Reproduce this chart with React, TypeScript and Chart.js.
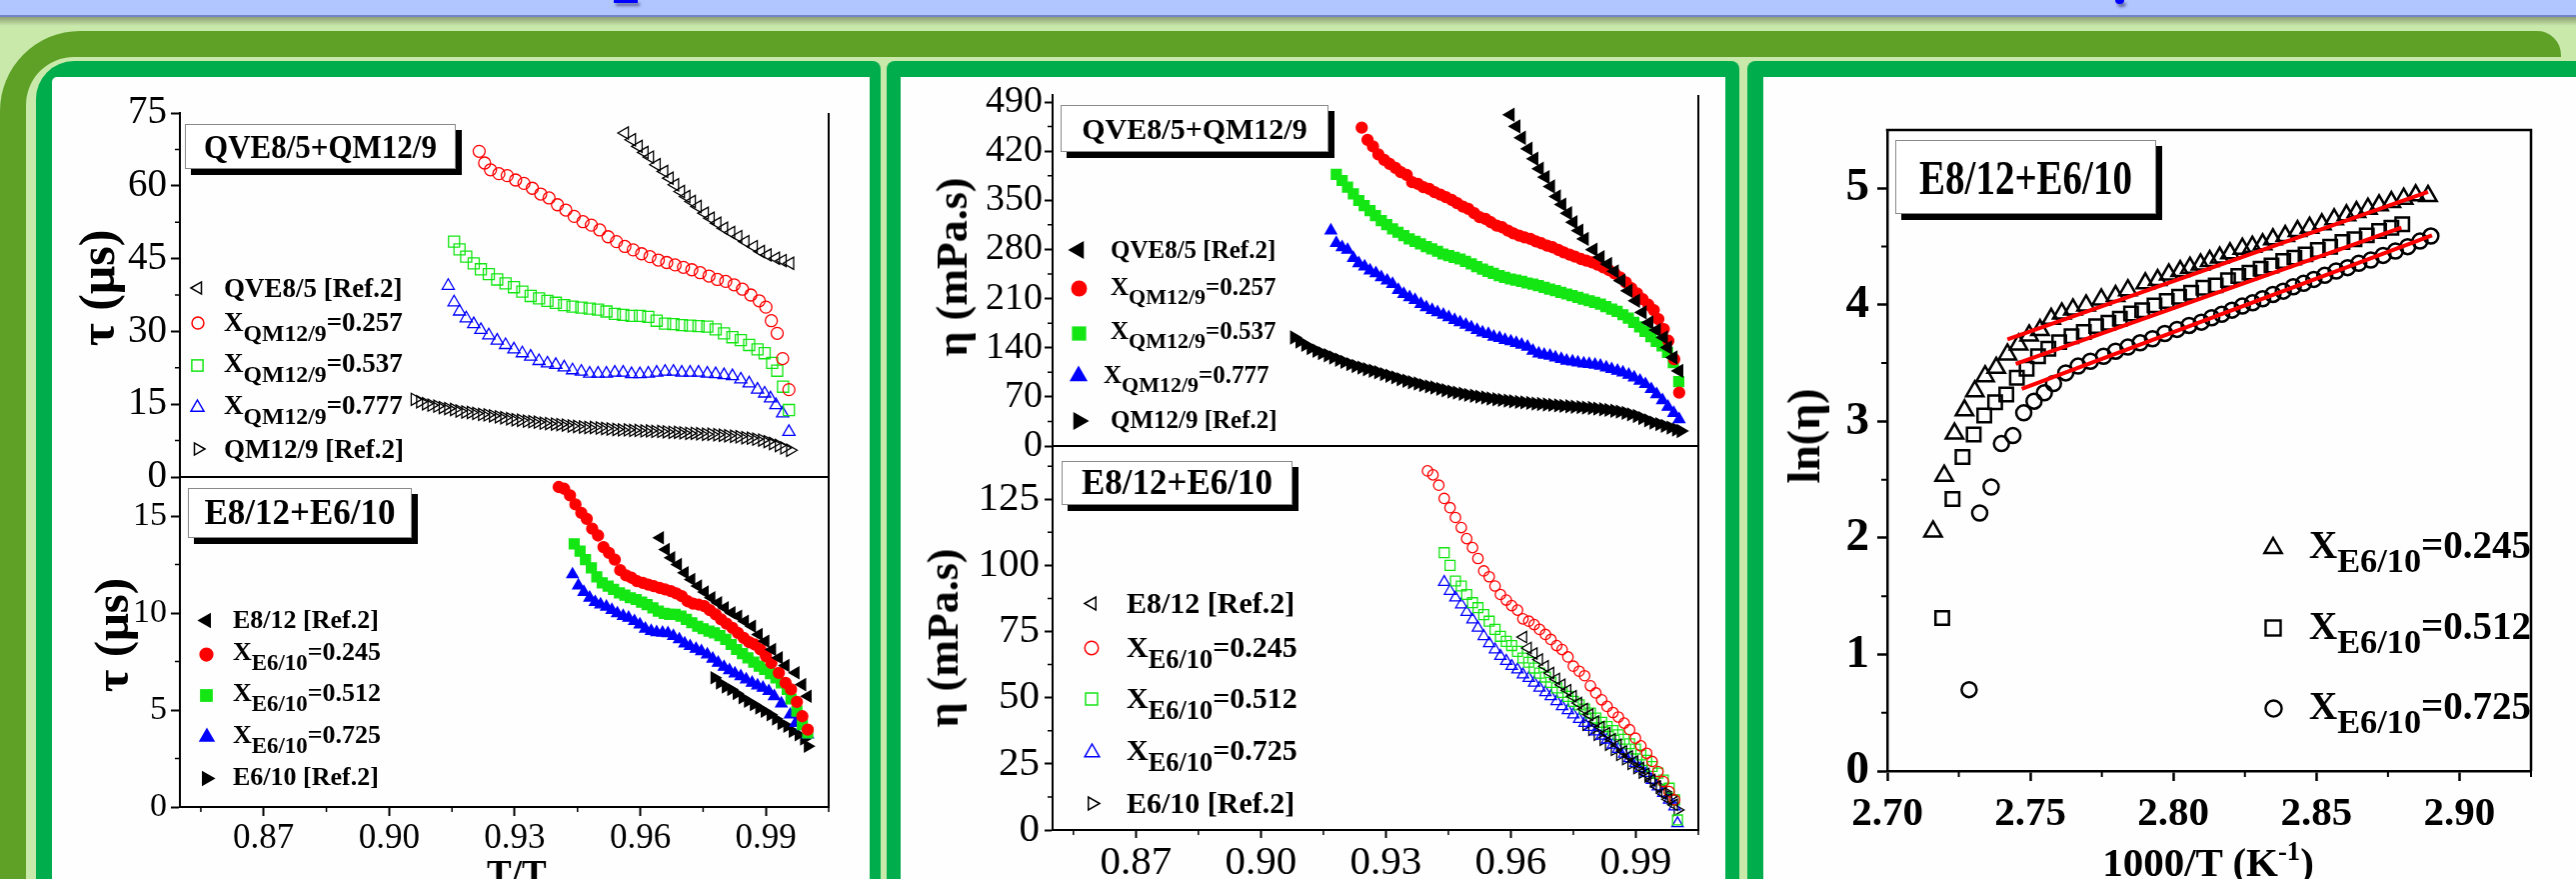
import React, { useEffect, useRef } from 'react';
import { Chart, registerables } from 'chart.js';
Chart.register(...registerables);

type Pt = [number, number];
const CFONT = "'Liberation Serif', 'Times New Roman', serif";

// ---------- Left panel, top: tau vs T/Tc (QVE8/5+QM12/9) ----------
const LT_QVE: Pt[] = [[0.9563,70.87],[0.9580,69.5],[0.9596,68.12],[0.9610,66.88],[0.9623,65.92],[0.9639,64.34],[0.9657,62.96],[0.9670,61.58],[0.9683,60.21],[0.9697,58.83],[0.9710,57.8],[0.9723,56.77],[0.9737,55.74],[0.9754,54.36],[0.9768,53.33],[0.9784,52.3],[0.9800,51.26],[0.9817,50.37],[0.9834,49.54],[0.9851,48.51],[0.9871,47.48],[0.9888,46.45],[0.9904,45.76],[0.9924,45.07],[0.9940,44.59],[0.9958,44.04]];
const LT_X257: Pt[] = [[0.9215,67.1],[0.9228,64.7],[0.9242,63.3],[0.9262,62.5],[0.9282,62.1],[0.9302,61.2],[0.9322,60.5],[0.9342,59.5],[0.9362,58.3],[0.9382,57.5],[0.9402,56.1],[0.9422,55.0],[0.9442,53.7],[0.9463,52.6],[0.9483,51.9],[0.9503,50.9],[0.9523,49.5],[0.9543,48.5],[0.9563,47.5],[0.9583,46.8],[0.9603,46.0],[0.9623,45.4],[0.9643,44.7],[0.9663,44.2],[0.9683,43.7],[0.9703,43.2],[0.9723,42.7],[0.9743,42.1],[0.9764,41.4],[0.9784,40.7],[0.9804,40.3],[0.9824,39.6],[0.9844,38.7],[0.9864,37.5],[0.9884,36.3],[0.9900,35.0],[0.9913,32.2],[0.9927,29.6],[0.9940,24.4],[0.9955,18.0]];
const LT_X537: Pt[] = [[0.9155,48.5],[0.9168,46.9],[0.9184,45.4],[0.9202,44.0],[0.9219,42.8],[0.9238,41.8],[0.9258,40.7],[0.9278,39.9],[0.9298,39.1],[0.9318,38.2],[0.9338,37.3],[0.9358,36.8],[0.9378,36.3],[0.9398,35.9],[0.9418,35.4],[0.9438,35.1],[0.9459,34.9],[0.9479,34.7],[0.9499,34.5],[0.9519,34.1],[0.9539,33.6],[0.9559,33.4],[0.9579,33.2],[0.9599,33.2],[0.9619,33.0],[0.9639,32.2],[0.9659,31.6],[0.9679,31.5],[0.9699,31.3],[0.9719,31.2],[0.9739,31.1],[0.9760,31.0],[0.9780,30.4],[0.9800,29.6],[0.9820,28.8],[0.9840,28.2],[0.9860,27.2],[0.9880,26.3],[0.9897,25.5],[0.9915,23.5],[0.9927,21.9],[0.9941,18.6],[0.9955,13.8]];
const LT_X777: Pt[] = [[0.9141,39.4],[0.9155,36.0],[0.9168,34.1],[0.9184,32.7],[0.9202,31.5],[0.9219,30.3],[0.9238,29.2],[0.9258,28.1],[0.9278,27.2],[0.9298,26.3],[0.9318,25.5],[0.9338,24.8],[0.9358,23.9],[0.9378,23.4],[0.9398,23.1],[0.9418,22.6],[0.9438,22.0],[0.9459,21.7],[0.9479,21.3],[0.9499,21.3],[0.9519,21.3],[0.9539,21.5],[0.9559,21.5],[0.9579,21.2],[0.9599,21.2],[0.9619,21.3],[0.9639,21.5],[0.9659,21.7],[0.9679,21.7],[0.9699,21.5],[0.9719,21.5],[0.9739,21.5],[0.9760,21.3],[0.9780,21.2],[0.9800,21.0],[0.9820,20.8],[0.9840,20.1],[0.9860,19.3],[0.9880,18.0],[0.9897,17.2],[0.9911,16.2],[0.9924,14.8],[0.9940,13.1],[0.9955,9.3]];
const LT_QM: Pt[] = [[0.9061,16.0],[0.9074,15.5],[0.9088,15.1],[0.9101,14.8],[0.9115,14.6],[0.9128,14.3],[0.9141,14.1],[0.9155,13.9],[0.9168,13.6],[0.9182,13.4],[0.9195,13.3],[0.9208,13.1],[0.9222,12.9],[0.9235,12.8],[0.9248,12.6],[0.9262,12.4],[0.9275,12.2],[0.9289,12.0],[0.9302,11.8],[0.9315,11.7],[0.9329,11.5],[0.9342,11.4],[0.9355,11.3],[0.9369,11.1],[0.9382,11.0],[0.9396,10.9],[0.9409,10.8],[0.9422,10.7],[0.9436,10.5],[0.9449,10.4],[0.9463,10.3],[0.9476,10.2],[0.9489,10.2],[0.9503,10.1],[0.9516,10.0],[0.9529,9.9],[0.9543,9.8],[0.9556,9.7],[0.9570,9.7],[0.9583,9.6],[0.9596,9.6],[0.9610,9.5],[0.9623,9.5],[0.9636,9.4],[0.9650,9.4],[0.9663,9.3],[0.9677,9.2],[0.9690,9.2],[0.9703,9.1],[0.9717,9.0],[0.9730,9.0],[0.9743,8.9],[0.9757,8.8],[0.9770,8.8],[0.9784,8.7],[0.9797,8.6],[0.9810,8.5],[0.9824,8.4],[0.9837,8.3],[0.9851,8.1],[0.9864,8.0],[0.9877,7.8],[0.9891,7.6],[0.9904,7.3],[0.9917,6.9],[0.9931,6.5],[0.9944,6.0],[0.9958,5.5]];

// ---------- Left panel, bottom: tau vs T/Tc (E8/12+E6/10) ----------
const LB_E812: Pt[] = [[0.9647,13.88],[0.9661,13.28],[0.9674,12.85],[0.9690,12.5],[0.9706,12.08],[0.9722,11.73],[0.9738,11.39],[0.9754,11.08],[0.9770,10.79],[0.9786,10.53],[0.9802,10.27],[0.9818,10.01],[0.9834,9.84],[0.9850,9.58],[0.9867,9.32],[0.9883,8.89],[0.9899,8.55],[0.9915,8.12],[0.9931,7.69],[0.9947,7.29],[0.9971,6.92],[0.9987,6.31],[1.0000,5.71]];
const LB_X245: Pt[] = [[0.9405,16.5],[0.9418,16.41],[0.9432,16.07],[0.9445,15.6],[0.9459,15.17],[0.9472,14.86],[0.9485,14.35],[0.9499,14.0],[0.9512,13.4],[0.9525,13.1],[0.9539,12.76],[0.9552,12.21],[0.9566,11.94],[0.9579,11.82],[0.9592,11.65],[0.9606,11.56],[0.9619,11.47],[0.9632,11.39],[0.9646,11.3],[0.9659,11.22],[0.9673,11.13],[0.9686,11.01],[0.9699,10.87],[0.9713,10.61],[0.9726,10.49],[0.9739,10.44],[0.9753,10.36],[0.9766,10.15],[0.9780,9.93],[0.9793,9.67],[0.9806,9.46],[0.9820,9.24],[0.9833,8.98],[0.9847,8.72],[0.9860,8.5],[0.9873,8.38],[0.9887,8.12],[0.9900,7.78],[0.9913,7.43],[0.9931,6.92],[0.9947,6.4],[0.9960,6.06],[0.9974,5.42],[0.9987,4.68],[1.0000,3.99]];
const LB_X512: Pt[] = [[0.9442,13.57],[0.9456,13.19],[0.9469,12.76],[0.9483,12.33],[0.9496,11.87],[0.9509,11.56],[0.9523,11.39],[0.9536,11.22],[0.9550,11.04],[0.9563,10.92],[0.9576,10.79],[0.9590,10.7],[0.9603,10.56],[0.9616,10.44],[0.9630,10.27],[0.9643,10.1],[0.9657,9.98],[0.9670,9.93],[0.9683,9.93],[0.9697,9.84],[0.9710,9.67],[0.9723,9.5],[0.9737,9.32],[0.9750,9.19],[0.9764,9.07],[0.9777,8.98],[0.9790,8.84],[0.9804,8.64],[0.9817,8.38],[0.9830,8.12],[0.9844,7.91],[0.9857,7.69],[0.9871,7.47],[0.9884,7.26],[0.9897,7.09],[0.9911,6.88],[0.9924,6.66],[0.9937,6.4],[0.9951,6.06],[0.9960,5.57],[0.9974,4.94],[0.9987,4.25],[1.0000,3.82]];
const LB_X725: Pt[] = [[0.9438,11.99],[0.9452,11.42],[0.9465,11.08],[0.9479,10.79],[0.9492,10.56],[0.9505,10.44],[0.9519,10.32],[0.9532,10.15],[0.9545,9.98],[0.9559,9.84],[0.9572,9.75],[0.9586,9.58],[0.9599,9.41],[0.9612,9.19],[0.9626,9.07],[0.9639,9.01],[0.9653,8.98],[0.9666,8.95],[0.9679,8.81],[0.9693,8.64],[0.9706,8.43],[0.9719,8.29],[0.9733,8.15],[0.9746,8.03],[0.9760,7.86],[0.9773,7.64],[0.9786,7.43],[0.9800,7.22],[0.9813,7.05],[0.9826,6.88],[0.9840,6.74],[0.9853,6.57],[0.9867,6.4],[0.9880,6.26],[0.9893,6.14],[0.9907,5.97],[0.9920,5.71],[0.9937,5.33],[0.9958,4.76],[0.9971,4.33],[0.9987,4.16],[1.0000,3.73]];
const LB_E610: Pt[] = [[0.9777,6.66],[0.9790,6.4],[0.9804,6.19],[0.9817,6.06],[0.9830,5.85],[0.9844,5.63],[0.9857,5.45],[0.9871,5.28],[0.9884,5.11],[0.9897,4.94],[0.9911,4.76],[0.9924,4.54],[0.9937,4.3],[0.9951,4.16],[0.9964,3.9],[0.9978,3.73],[0.9991,3.51],[1.0000,3.13]];

// ---------- Middle panel, top: eta vs T/Tc (QVE8/5+QM12/9) ----------
const MT_QVE: Pt[] = [[0.9599,471.9],[0.9613,455.3],[0.9626,439.1],[0.9642,423.4],[0.9656,409.1],[0.9669,394.9],[0.9683,383.0],[0.9696,369.6],[0.9710,355.4],[0.9723,343.9],[0.9737,331.6],[0.9750,318.7],[0.9764,306.8],[0.9777,295.0],[0.9798,279.7],[0.9815,268.8],[0.9833,259.3],[0.9849,248.8],[0.9865,235.5],[0.9882,221.2],[0.9900,206.9],[0.9916,190.3],[0.9932,176.0],[0.9950,165.1],[0.9967,154.6],[0.9977,140.3],[0.9990,126.1],[1.0004,107.0]];
const MT_X257: Pt[] = [[0.9242,453.4],[0.9256,436.2],[0.9269,426.7],[0.9282,415.3],[0.9296,407.7],[0.9309,402.0],[0.9323,396.3],[0.9336,390.1],[0.9350,386.3],[0.9363,375.8],[0.9377,373.4],[0.9390,368.7],[0.9404,366.3],[0.9417,361.6],[0.9431,358.2],[0.9444,354.4],[0.9458,350.6],[0.9471,345.9],[0.9485,341.1],[0.9498,337.8],[0.9512,331.6],[0.9525,325.9],[0.9539,323.5],[0.9552,318.7],[0.9566,314.0],[0.9579,311.6],[0.9593,306.8],[0.9606,303.0],[0.9620,299.7],[0.9633,297.3],[0.9647,295.0],[0.9660,291.6],[0.9673,288.8],[0.9687,285.4],[0.9700,283.1],[0.9714,279.3],[0.9727,275.9],[0.9741,272.6],[0.9754,269.8],[0.9768,266.4],[0.9781,264.0],[0.9795,261.6],[0.9808,258.3],[0.9822,254.5],[0.9835,250.7],[0.9849,245.9],[0.9862,240.2],[0.9876,233.1],[0.9889,225.0],[0.9903,217.4],[0.9916,209.3],[0.9930,201.2],[0.9943,193.6],[0.9954,180.8],[0.9967,166.5],[0.9978,149.9],[0.9992,123.7],[1.0004,76.1]];
const MT_X537: Pt[] = [[0.9181,386.8],[0.9195,378.2],[0.9208,368.7],[0.9222,359.2],[0.9235,349.7],[0.9248,342.5],[0.9262,335.4],[0.9275,328.3],[0.9289,321.1],[0.9302,315.4],[0.9316,309.2],[0.9329,304.5],[0.9343,299.7],[0.9356,295.0],[0.9370,291.6],[0.9383,287.8],[0.9397,284.0],[0.9410,280.7],[0.9424,277.4],[0.9437,273.5],[0.9451,271.2],[0.9464,268.8],[0.9478,266.4],[0.9491,263.1],[0.9505,259.3],[0.9518,255.5],[0.9532,252.1],[0.9545,248.8],[0.9558,246.0],[0.9572,242.6],[0.9585,240.2],[0.9599,237.9],[0.9612,236.4],[0.9626,234.5],[0.9639,232.2],[0.9653,230.7],[0.9666,228.4],[0.9680,226.0],[0.9693,223.6],[0.9707,221.2],[0.9720,218.8],[0.9734,216.5],[0.9747,214.1],[0.9761,211.7],[0.9774,209.3],[0.9788,206.9],[0.9801,204.6],[0.9815,202.2],[0.9828,198.4],[0.9842,195.0],[0.9855,191.7],[0.9869,187.0],[0.9882,182.2],[0.9895,176.0],[0.9909,169.8],[0.9922,163.2],[0.9936,155.6],[0.9949,148.9],[0.9963,142.7],[0.9976,133.2],[0.9990,118.9],[1.0003,91.8]];
const MT_X777: Pt[] = [[0.9168,306.8],[0.9181,289.2],[0.9195,283.1],[0.9208,279.3],[0.9222,267.8],[0.9235,260.2],[0.9249,255.5],[0.9262,249.8],[0.9276,246.0],[0.9289,240.2],[0.9303,235.5],[0.9316,230.7],[0.9330,222.2],[0.9343,216.5],[0.9357,211.7],[0.9370,207.9],[0.9384,202.2],[0.9397,197.4],[0.9411,193.6],[0.9424,190.3],[0.9438,187.0],[0.9451,183.2],[0.9465,179.4],[0.9478,176.0],[0.9492,172.7],[0.9505,168.9],[0.9519,165.1],[0.9532,161.7],[0.9546,159.4],[0.9559,155.6],[0.9573,153.7],[0.9586,150.8],[0.9600,148.9],[0.9613,146.5],[0.9626,144.1],[0.9640,141.3],[0.9653,135.6],[0.9667,131.8],[0.9680,129.9],[0.9694,128.4],[0.9707,126.1],[0.9721,123.7],[0.9734,121.3],[0.9748,120.4],[0.9761,118.9],[0.9775,117.5],[0.9788,116.6],[0.9802,115.6],[0.9815,114.2],[0.9829,111.8],[0.9842,109.4],[0.9856,107.0],[0.9869,104.7],[0.9883,101.3],[0.9896,97.5],[0.9910,92.8],[0.9923,88.0],[0.9937,80.9],[0.9950,73.7],[0.9964,65.2],[0.9977,55.7],[0.9991,47.0],[1.0004,38.1]];
const MT_QM: Pt[] = [[0.9080,154.6],[0.9093,148.9],[0.9107,144.1],[0.9120,139.4],[0.9134,135.6],[0.9147,132.3],[0.9161,129.2],[0.9174,126.1],[0.9188,122.9],[0.9201,119.8],[0.9215,116.6],[0.9228,114.0],[0.9242,111.6],[0.9255,109.4],[0.9269,107.2],[0.9282,105.0],[0.9296,102.3],[0.9309,100.1],[0.9323,97.7],[0.9336,95.1],[0.9350,92.9],[0.9363,90.8],[0.9377,89.0],[0.9390,86.8],[0.9404,84.9],[0.9417,83.3],[0.9431,81.4],[0.9444,79.4],[0.9458,77.5],[0.9471,76.0],[0.9485,74.4],[0.9498,72.8],[0.9512,71.5],[0.9525,70.3],[0.9539,69.0],[0.9552,67.7],[0.9566,66.6],[0.9579,65.7],[0.9593,64.7],[0.9606,63.7],[0.9620,62.8],[0.9633,62.2],[0.9647,61.4],[0.9660,60.4],[0.9673,59.8],[0.9687,59.2],[0.9700,58.5],[0.9714,57.9],[0.9727,57.2],[0.9741,56.6],[0.9754,56.0],[0.9768,55.4],[0.9781,54.7],[0.9795,54.1],[0.9808,53.3],[0.9822,52.3],[0.9835,51.4],[0.9849,50.3],[0.9862,49.0],[0.9876,47.2],[0.9889,45.0],[0.9903,42.8],[0.9916,39.7],[0.9930,36.5],[0.9943,33.3],[0.9957,31.1],[0.9970,28.7],[0.9984,26.2],[0.9997,23.5],[1.0008,21.4]];

// ---------- Middle panel, bottom: eta vs T/Tc (E8/12+E6/10) ----------
const MB_E812: Pt[] = [[0.9630,72.9],[0.9641,68.8],[0.9655,66.7],[0.9668,64.4],[0.9682,61.9],[0.9695,59.3],[0.9709,57.1],[0.9722,54.9],[0.9736,52.8],[0.9749,50.5],[0.9762,48.0],[0.9776,45.7],[0.9789,43.6],[0.9803,41.0],[0.9816,38.9],[0.9830,36.6],[0.9843,34.3],[0.9857,32.2],[0.9870,29.7],[0.9884,27.8],[0.9897,25.9],[0.9911,23.4],[0.9924,21.2],[0.9938,18.9],[0.9951,16.4],[0.9965,13.9],[0.9978,11.6],[0.9992,9.5]];
const MB_X245: Pt[] = [[0.9400,135.7],[0.9413,134.2],[0.9427,130.3],[0.9440,125.3],[0.9454,121.8],[0.9467,118.1],[0.9481,114.3],[0.9494,110.1],[0.9508,106.7],[0.9521,102.6],[0.9535,97.9],[0.9548,95.7],[0.9562,92.2],[0.9575,89.0],[0.9589,86.9],[0.9602,84.8],[0.9616,83.1],[0.9629,79.8],[0.9643,78.9],[0.9656,77.6],[0.9669,75.8],[0.9683,73.9],[0.9696,72.0],[0.9710,69.7],[0.9723,68.2],[0.9737,65.4],[0.9750,61.9],[0.9764,60.0],[0.9777,58.3],[0.9791,54.5],[0.9804,51.8],[0.9818,49.2],[0.9831,46.7],[0.9845,44.4],[0.9858,42.7],[0.9872,40.4],[0.9885,37.9],[0.9899,34.7],[0.9912,31.8],[0.9926,29.0],[0.9939,25.9],[0.9953,22.1],[0.9966,18.3],[0.9980,14.5],[0.9993,11.4]];
const MB_X512: Pt[] = [[0.9440,104.8],[0.9454,100.0],[0.9467,94.1],[0.9481,92.2],[0.9494,89.0],[0.9508,85.9],[0.9521,84.0],[0.9535,81.4],[0.9548,78.9],[0.9562,75.8],[0.9575,73.2],[0.9589,71.3],[0.9602,69.7],[0.9616,67.5],[0.9629,65.0],[0.9643,63.4],[0.9656,61.2],[0.9669,59.3],[0.9683,57.8],[0.9696,55.8],[0.9710,53.7],[0.9723,52.0],[0.9737,50.5],[0.9750,48.6],[0.9764,47.3],[0.9777,45.7],[0.9791,44.2],[0.9804,42.3],[0.9818,40.7],[0.9831,39.1],[0.9845,37.6],[0.9858,36.0],[0.9872,34.3],[0.9885,32.6],[0.9899,30.6],[0.9912,28.4],[0.9926,26.3],[0.9939,24.0],[0.9953,21.5],[0.9966,18.9],[0.9980,15.8],[0.9993,11.4],[1.0000,3.8]];
const MB_X725: Pt[] = [[0.9440,93.7],[0.9454,90.3],[0.9467,87.8],[0.9481,85.2],[0.9494,82.3],[0.9508,79.5],[0.9521,76.4],[0.9535,73.2],[0.9548,70.5],[0.9562,68.2],[0.9575,65.7],[0.9589,63.8],[0.9602,61.9],[0.9616,60.6],[0.9629,58.7],[0.9643,57.4],[0.9656,55.6],[0.9669,53.7],[0.9683,52.0],[0.9696,50.5],[0.9710,48.6],[0.9723,46.7],[0.9737,45.2],[0.9750,43.6],[0.9764,41.9],[0.9777,40.4],[0.9791,38.9],[0.9804,37.2],[0.9818,35.6],[0.9831,34.1],[0.9845,32.2],[0.9858,30.6],[0.9872,28.8],[0.9885,27.1],[0.9899,25.3],[0.9912,23.4],[0.9926,21.5],[0.9939,18.9],[0.9953,16.4],[0.9966,13.9],[0.9980,11.4],[0.9993,8.8],[1.0000,2.5]];
const MB_E610: Pt[] = [[0.9781,39.8],[0.9795,37.9],[0.9808,36.0],[0.9822,34.1],[0.9835,32.2],[0.9849,30.3],[0.9862,28.4],[0.9876,26.8],[0.9889,25.0],[0.9903,23.4],[0.9916,21.7],[0.9930,20.2],[0.9943,18.3],[0.9957,16.4],[0.9970,14.5],[0.9984,12.6],[1.0000,7.6]];

// ---------- Right panel: ln(eta) vs 1000/T ----------
const R_T245: Pt[] = [[2.716,2.056],[2.7199,2.534],[2.7235,2.895],[2.727,3.095],[2.7306,3.259],[2.7342,3.388],[2.7381,3.46],[2.742,3.574],[2.7459,3.66],[2.7496,3.737],[2.7534,3.783],[2.7573,3.88],[2.761,3.926],[2.7649,3.96],[2.7695,3.995],[2.7748,4.046],[2.7798,4.075],[2.7841,4.126],[2.7902,4.184],[2.7945,4.212],[2.7984,4.261],[2.8024,4.29],[2.8058,4.319],[2.8095,4.347],[2.8127,4.376],[2.8162,4.405],[2.8198,4.442],[2.8241,4.482],[2.8276,4.499],[2.8312,4.519],[2.8348,4.562],[2.8391,4.59],[2.8434,4.633],[2.8476,4.662],[2.8519,4.691],[2.8562,4.734],[2.8605,4.768],[2.864,4.796],[2.868,4.825],[2.8719,4.854],[2.8762,4.882],[2.8805,4.911],[2.8847,4.94],[2.889,4.934]];
const R_S512: Pt[] = [[2.7192,1.312],[2.7228,2.334],[2.7263,2.695],[2.7302,2.887],[2.7339,3.05],[2.7377,3.164],[2.7416,3.23],[2.7453,3.374],[2.7487,3.451],[2.7527,3.559],[2.7563,3.623],[2.7601,3.68],[2.7644,3.731],[2.7687,3.766],[2.773,3.817],[2.7773,3.846],[2.7813,3.88],[2.7852,3.926],[2.7891,3.954],[2.7934,3.995],[2.7977,4.032],[2.802,4.069],[2.8062,4.104],[2.8105,4.147],[2.8148,4.167],[2.8191,4.212],[2.8227,4.247],[2.8266,4.276],[2.8305,4.31],[2.8343,4.338],[2.8384,4.376],[2.8423,4.405],[2.8462,4.433],[2.8505,4.47],[2.8548,4.499],[2.8591,4.539],[2.8633,4.562],[2.8676,4.596],[2.8719,4.633],[2.8762,4.662],[2.88,4.691]];
const R_C725: Pt[] = [[2.7286,0.698],[2.7323,2.214],[2.7363,2.437],[2.7399,2.809],[2.7439,2.878],[2.7477,3.073],[2.7513,3.173],[2.7549,3.245],[2.7581,3.325],[2.7624,3.416],[2.7667,3.474],[2.771,3.516],[2.7756,3.559],[2.7798,3.602],[2.7841,3.637],[2.7884,3.674],[2.7927,3.709],[2.797,3.754],[2.8013,3.789],[2.8055,3.823],[2.8098,3.851],[2.8134,3.889],[2.8169,3.918],[2.8205,3.954],[2.8241,3.989],[2.8277,4.017],[2.8312,4.052],[2.8348,4.089],[2.8384,4.117],[2.8419,4.155],[2.8455,4.184],[2.8491,4.218],[2.8529,4.253],[2.8569,4.29],[2.8609,4.319],[2.8648,4.356],[2.869,4.384],[2.8733,4.424],[2.8776,4.461],[2.8819,4.499],[2.8862,4.547],[2.89,4.59]];
const R_FIT245: Pt[] = [[2.742,3.703],[2.889,4.969]];
const R_FIT512: Pt[] = [[2.7449,3.494],[2.8797,4.662]];
const R_FIT725: Pt[] = [[2.747,3.279],[2.8904,4.596]];

// ---------- tick values ----------
const TT_X_MAJOR = [0.87, 0.90, 0.93, 0.96, 0.99];
const TT_X_MINOR = [0.855, 0.885, 0.915, 0.945, 0.975, 1.005];
const LT_Y_MAJOR = [0, 15, 30, 45, 60, 75];
const LT_Y_MINOR = [7.5, 22.5, 37.5, 52.5, 67.5];
const LB_Y_MAJOR = [0, 5, 10, 15];
const LB_Y_MINOR = [2.5, 7.5, 12.5];
const MT_Y_MAJOR = [0, 70, 140, 210, 280, 350, 420, 490];
const MT_Y_MINOR = [35, 105, 175, 245, 315, 385, 455];
const MB_Y_MAJOR = [0, 25, 50, 75, 100, 125];
const MB_Y_MINOR = [12.5, 37.5, 62.5, 87.5, 112.5, 137.5];
const R_X_MAJOR = [2.70, 2.75, 2.80, 2.85, 2.90];
const R_X_MINOR = [2.725, 2.775, 2.825, 2.875, 2.925];
const R_Y_MAJOR = [0, 1, 2, 3, 4, 5];
const R_Y_MINOR = [0.5, 1.5, 2.5, 3.5, 4.5];

const RED = '#ff0000';
const GREEN = '#14e614';
const BLUE = '#0000ff';
const BLACK = '#000000';

type Spec = { data: Pt[]; shape: string; rot?: number; color: string; filled: boolean; r: number; bw?: number };
type Cfg = {
  canvas: { x: number; y: number; w: number; h: number };
  area: { x1: number; y1: number; x2: number; y2: number };
  xMin: number; xMax: number; xMajor: number[]; xMinor: number[]; showX: boolean; xSize: number; xWeight: string; xDec: number; xPad: number;
  yMin: number; yMax: number; yMajor: number[]; yMinor: number[]; ySize: number; yWeight: string; yPad: number;
  series: Spec[]; fits?: Pt[][]; topFrame?: boolean; lw: number; tickLen: number; minorLen: number;
};

function buildConfig(cfg: Cfg): any {
  const yW = cfg.area.x1 - cfg.canvas.x;
  const xH = cfg.canvas.y + cfg.canvas.h - cfg.area.y2;
  const padTop = cfg.area.y1 - cfg.canvas.y;
  const padRight = cfg.canvas.x + cfg.canvas.w - cfg.area.x2;
  const datasets: any[] = [];
  (cfg.fits || []).forEach((f) => {
    datasets.push({ data: f.map(([x, y]) => ({ x, y })), showLine: true, borderColor: RED, borderWidth: 4, pointRadius: 0, pointHoverRadius: 0, fill: false, clip: false });
  });
  cfg.series.forEach((s) => {
    datasets.push({
      data: s.data.map(([x, y]) => ({ x, y })), showLine: false,
      pointStyle: s.shape, pointRotation: s.rot || 0, pointRadius: s.r, pointHoverRadius: s.r,
      pointBackgroundColor: s.filled ? s.color : 'rgba(0,0,0,0)', pointBorderColor: s.color,
      pointBorderWidth: s.bw ?? 1.3, clip: false,
    });
  });
  const zeroPad = (a: any) => { a.paddingLeft = 0; a.paddingRight = 0; a.paddingTop = 0; a.paddingBottom = 0; };
  const framePlugin = {
    id: 'frameMinor',
    afterDraw(chart: any) {
      const ctx = chart.ctx; const a = chart.chartArea;
      const xs = chart.scales.x; const ys = chart.scales.y;
      ctx.save();
      ctx.strokeStyle = '#000';
      ctx.lineWidth = cfg.lw;
      ctx.beginPath();
      ctx.moveTo(a.right, a.top); ctx.lineTo(a.right, a.bottom);
      if (cfg.topFrame) { ctx.moveTo(a.left - cfg.lw / 2, a.top); ctx.lineTo(a.right + cfg.lw / 2, a.top); }
      ctx.stroke();
      ctx.lineWidth = Math.max(1.5, cfg.lw - 0.5);
      ctx.beginPath();
      cfg.yMinor.forEach((v) => { const p = ys.getPixelForValue(v); ctx.moveTo(a.left, p); ctx.lineTo(a.left - cfg.minorLen, p); });
      if (cfg.showX) cfg.xMinor.forEach((v) => { const p = xs.getPixelForValue(v); ctx.moveTo(p, a.bottom); ctx.lineTo(p, a.bottom + cfg.minorLen); });
      ctx.stroke();
      ctx.restore();
    },
  };
  return {
    type: 'scatter',
    data: { datasets },
    options: {
      animation: false, responsive: false, devicePixelRatio: 1, events: [],
      layout: { padding: { left: 0, top: padTop, right: padRight, bottom: 0 } },
      plugins: { legend: { display: false }, tooltip: { enabled: false } },
      scales: {
        x: {
          type: 'linear', position: 'bottom', min: cfg.xMin, max: cfg.xMax,
          afterBuildTicks: (a: any) => { a.ticks = cfg.xMajor.map((v) => ({ value: v })); },
          afterFit: (a: any) => { a.height = xH; zeroPad(a); },
          ticks: { display: cfg.showX, autoSkip: false, maxRotation: 0, minRotation: 0, color: '#000', padding: cfg.xPad,
            font: { family: CFONT, size: cfg.xSize, weight: cfg.xWeight }, callback: (v: any) => Number(v).toFixed(cfg.xDec) },
          grid: { display: true, drawOnChartArea: false, drawTicks: cfg.showX, tickLength: cfg.tickLen, tickWidth: cfg.lw, tickColor: '#000' },
          border: { display: true, color: '#000', width: cfg.lw },
        },
        y: {
          type: 'linear', position: 'left', min: cfg.yMin, max: cfg.yMax,
          afterBuildTicks: (a: any) => { a.ticks = cfg.yMajor.map((v) => ({ value: v })); },
          afterFit: (a: any) => { a.width = yW; zeroPad(a); },
          ticks: { autoSkip: false, color: '#000', padding: cfg.yPad,
            font: { family: CFONT, size: cfg.ySize, weight: cfg.yWeight }, callback: (v: any) => String(Number(v)) },
          grid: { display: true, drawOnChartArea: false, drawTicks: true, tickLength: cfg.tickLen, tickWidth: cfg.lw, tickColor: '#000' },
          border: { display: true, color: '#000', width: cfg.lw },
        },
      },
    },
    plugins: [framePlugin],
  };
}

const CHARTS: Cfg[] = [
  {
    canvas: { x: 52, y: 77, w: 818, h: 420 }, area: { x1: 180, y1: 113, x2: 829, y2: 477 },
    xMin: 0.85, xMax: 1.005, xMajor: TT_X_MAJOR, xMinor: TT_X_MINOR, showX: false, xSize: 34, xWeight: 'normal', xDec: 2, xPad: 2,
    yMin: 0, yMax: 75, yMajor: LT_Y_MAJOR, yMinor: LT_Y_MINOR, ySize: 39, yWeight: 'normal', yPad: 4,
    lw: 2, tickLen: 9, minorLen: 5,
    series: [
      { data: LT_QVE, shape: 'triangle', rot: -90, color: BLACK, filled: false, r: 7 },
      { data: LT_X257, shape: 'circle', color: RED, filled: false, r: 6 },
      { data: LT_X537, shape: 'rect', color: GREEN, filled: false, r: 7.8 },
      { data: LT_X777, shape: 'triangle', color: BLUE, filled: false, r: 7 },
      { data: LT_QM, shape: 'triangle', rot: 90, color: BLACK, filled: false, r: 7 },
    ],
  },
  {
    canvas: { x: 52, y: 469, w: 818, h: 410 }, area: { x1: 180, y1: 477, x2: 829, y2: 807 },
    xMin: 0.85, xMax: 1.005, xMajor: TT_X_MAJOR, xMinor: TT_X_MINOR, showX: true, xSize: 35, xWeight: 'normal', xDec: 2, xPad: 2,
    yMin: 0, yMax: 17, yMajor: LB_Y_MAJOR, yMinor: LB_Y_MINOR, ySize: 34, yWeight: 'normal', yPad: 4,
    lw: 2, tickLen: 9, minorLen: 5,
    series: [
      { data: LB_E812, shape: 'triangle', rot: -90, color: BLACK, filled: true, r: 6.5 },
      { data: LB_X245, shape: 'circle', color: RED, filled: true, r: 5.5 },
      { data: LB_X512, shape: 'rect', color: GREEN, filled: true, r: 7 },
      { data: LB_X725, shape: 'triangle', color: BLUE, filled: true, r: 6.5 },
      { data: LB_E610, shape: 'triangle', rot: 90, color: BLACK, filled: true, r: 6.5 },
    ],
  },
  {
    canvas: { x: 901, y: 77, w: 825, h: 389 }, area: { x1: 1053, y1: 95, x2: 1699, y2: 446 },
    xMin: 0.85, xMax: 1.005, xMajor: TT_X_MAJOR, xMinor: TT_X_MINOR, showX: false, xSize: 40, xWeight: 'normal', xDec: 2, xPad: 2,
    yMin: 0, yMax: 500, yMajor: MT_Y_MAJOR, yMinor: MT_Y_MINOR, ySize: 38, yWeight: 'normal', yPad: 2,
    lw: 2, tickLen: 8, minorLen: 5,
    series: [
      { data: MT_QVE, shape: 'triangle', rot: -90, color: BLACK, filled: true, r: 7 },
      { data: MT_X257, shape: 'circle', color: RED, filled: true, r: 5.5 },
      { data: MT_X537, shape: 'rect', color: GREEN, filled: true, r: 7 },
      { data: MT_X777, shape: 'triangle', color: BLUE, filled: true, r: 6.5 },
      { data: MT_QM, shape: 'triangle', rot: 90, color: BLACK, filled: true, r: 7 },
    ],
  },
  {
    canvas: { x: 901, y: 438, w: 825, h: 441 }, area: { x1: 1053, y1: 446, x2: 1699, y2: 830 },
    xMin: 0.85, xMax: 1.005, xMajor: TT_X_MAJOR, xMinor: TT_X_MINOR, showX: true, xSize: 41, xWeight: 'normal', xDec: 2, xPad: 1,
    yMin: 0, yMax: 145, yMajor: MB_Y_MAJOR, yMinor: MB_Y_MINOR, ySize: 41, yWeight: 'normal', yPad: 5,
    lw: 2, tickLen: 8, minorLen: 5,
    series: [
      { data: MB_E812, shape: 'triangle', rot: -90, color: BLACK, filled: false, r: 6.5 },
      { data: MB_X245, shape: 'circle', color: RED, filled: false, r: 5.2 },
      { data: MB_X512, shape: 'rect', color: GREEN, filled: false, r: 7 },
      { data: MB_X725, shape: 'triangle', color: BLUE, filled: false, r: 6.5 },
      { data: MB_E610, shape: 'triangle', rot: 90, color: BLACK, filled: false, r: 6.5 },
    ],
  },
  {
    canvas: { x: 1764, y: 77, w: 813, h: 802 }, area: { x1: 1888, y1: 130, x2: 2532, y2: 771 },
    xMin: 2.70, xMax: 2.925, xMajor: R_X_MAJOR, xMinor: R_X_MINOR, showX: true, xSize: 41, xWeight: 'bold', xDec: 2, xPad: 9,
    yMin: 0, yMax: 5.5, yMajor: R_Y_MAJOR, yMinor: R_Y_MINOR, ySize: 47, yWeight: 'bold', yPad: 8,
    lw: 2.5, tickLen: 10, minorLen: 6, topFrame: true,
    fits: [R_FIT245, R_FIT512, R_FIT725],
    series: [
      { data: R_T245, shape: 'triangle', color: BLACK, filled: false, r: 10, bw: 2.5 },
      { data: R_S512, shape: 'rect', color: BLACK, filled: false, r: 9.5, bw: 2.5 },
      { data: R_C725, shape: 'circle', color: BLACK, filled: false, r: 7.5, bw: 2.5 },
    ],
  },
];

function ChartCanvas({ cfg }: { cfg: Cfg }) {
  const ref = useRef<HTMLCanvasElement>(null);
  useEffect(() => {
    const chart = new Chart(ref.current as HTMLCanvasElement, buildConfig(cfg));
    return () => chart.destroy();
  }, [cfg]);
  const c = cfg.canvas;
  return <canvas ref={ref} width={c.w} height={c.h} style={{ position: 'absolute', left: c.x, top: c.y, width: c.w, height: c.h }} />;
}

function Sym({ kind, color, filled, s, x, y, sw = 1.5 }: { kind: string; color: string; filled: boolean; s: number; x: number; y: number; sw?: number }) {
  const r = s / 2;
  const c = r + 3;
  const fill = filled ? color : 'none';
  let el: any;
  if (kind === 'circle') el = <circle cx={c} cy={c} r={r * 0.85} fill={fill} stroke={color} strokeWidth={sw} />;
  else if (kind === 'square') el = <rect x={c - r * 0.75} y={c - r * 0.75} width={r * 1.5} height={r * 1.5} fill={fill} stroke={color} strokeWidth={sw} />;
  else {
    const pts = kind === 'up' ? [[0, -1], [0.866, 0.5], [-0.866, 0.5]] : kind === 'left' ? [[-1, 0], [0.5, -0.866], [0.5, 0.866]] : [[1, 0], [-0.5, -0.866], [-0.5, 0.866]];
    el = <polygon points={pts.map(([a, b]) => `${c + a * r},${c + b * r}`).join(' ')} fill={fill} stroke={color} strokeWidth={sw} strokeLinejoin="miter" />;
  }
  return <svg width={2 * c} height={2 * c} style={{ position: 'absolute', left: x - c, top: y - c }}>{el}</svg>;
}

const subStyle: any = { fontSize: '0.88em', verticalAlign: '-0.42em', lineHeight: 0 };
function XSub({ sub, val }: { sub: string; val: string }) {
  return <>X<sub style={subStyle}>{sub}</sub>={val}</>;
}

function Txt({ x, y, size, children, weight = 'bold' }: { x: number; y: number; size: number; children: any; weight?: string }) {
  return (
    <div style={{ position: 'absolute', left: x, top: y - size * 0.6, height: size * 1.2, lineHeight: `${size * 1.2}px`, fontSize: size, fontWeight: weight as any, whiteSpace: 'nowrap', color: '#000' }}>
      {children}
    </div>
  );
}

function Box({ x, y, w, h, size, sy = 1, children }: { x: number; y: number; w: number; h: number; size: number; sy?: number; children: any }) {
  return (
    <div style={{ position: 'absolute', left: x, top: y, width: w, height: h, boxSizing: 'border-box', background: '#fff', border: '1.5px solid #8a8a8a', boxShadow: '6px 6px 0 #000', display: 'flex', alignItems: 'center', justifyContent: 'center', fontSize: size, fontWeight: 'bold', whiteSpace: 'nowrap' }}>
      <span style={{ display: 'inline-block', transform: `scaleY(${sy})` }}>{children}</span>
    </div>
  );
}

function VTitle({ cx, cy, size, children }: { cx: number; cy: number; size: number; children: any }) {
  return (
    <div style={{ position: 'absolute', left: cx, top: cy, transform: 'translate(-50%, -50%) rotate(-90deg)', fontSize: size, fontWeight: 'bold', lineHeight: 1, whiteSpace: 'nowrap' }}>
      {children}
    </div>
  );
}

export default function App() {
  useEffect(() => {
    document.body.style.margin = '0';
    document.documentElement.style.overflow = 'hidden';
  }, []);
  const LIGHT = '#c9e9ab';
  const OLIVE = '#5fa127';
  const BRIGHT = '#00ad4d';
  return (
    <div style={{ position: 'absolute', left: 0, top: 0, width: 2577, height: 879, overflow: 'hidden', background: LIGHT, fontFamily: CFONT }}>
      {/* header strip */}
      <div style={{ position: 'absolute', left: 0, top: 0, width: 2577, height: 15, background: '#b1c5fe' }} />
      <div style={{ position: 'absolute', left: 0, top: 15, width: 2577, height: 2, background: '#7383c9' }} />
      <div style={{ position: 'absolute', left: 0, top: 17, width: 2577, height: 9, background: `linear-gradient(#8e9f74, ${LIGHT})` }} />
      <div style={{ position: 'absolute', left: 614, top: 0, width: 24, height: 3, background: '#0000ff', boxShadow: '2px 3px 3px rgba(40,40,90,0.6)' }} />
      <div style={{ position: 'absolute', left: 2116, top: 0, width: 9, height: 4, background: '#0000ff', borderRadius: '0 0 5px 5px', boxShadow: '2px 3px 3px rgba(40,40,90,0.6)' }} />
      {/* frames */}
      <div style={{ position: 'absolute', left: 0, top: 31, width: 2562, height: 900, background: OLIVE, borderTopLeftRadius: 80, borderTopRightRadius: 24 }} />
      <div style={{ position: 'absolute', left: 26, top: 57, width: 2600, height: 900, background: LIGHT, borderTopLeftRadius: 48 }} />
      <div style={{ position: 'absolute', left: 36, top: 61, width: 845, height: 900, background: BRIGHT, borderTopLeftRadius: 38, borderTopRightRadius: 8 }} />
      <div style={{ position: 'absolute', left: 52, top: 77, width: 818, height: 900, background: '#fefefe', borderTopLeftRadius: 5 }} />
      <div style={{ position: 'absolute', left: 887, top: 61, width: 853, height: 900, background: BRIGHT, borderTopLeftRadius: 8, borderTopRightRadius: 8 }} />
      <div style={{ position: 'absolute', left: 901, top: 77, width: 825, height: 900, background: '#fefefe' }} />
      <div style={{ position: 'absolute', left: 1748, top: 61, width: 900, height: 900, background: BRIGHT, borderTopLeftRadius: 8 }} />
      <div style={{ position: 'absolute', left: 1764, top: 77, width: 900, height: 900, background: '#fefefe' }} />

      {CHARTS.map((c, i) => <ChartCanvas key={i} cfg={c} />)}

      {/* Left top overlays */}
      <Box x={185} y={124} w={271} h={45} size={31} sy={1.1}>QVE8/5+QM12/9</Box>
      <VTitle cx={97} cy={288} size={50}>τ (μs)</VTitle>
      <Sym kind="left" color={BLACK} filled={false} s={14} x={197.5} y={288} />
      <Txt x={224} y={288} size={27}>QVE8/5 [Ref.2]</Txt>
      <Sym kind="circle" color={RED} filled={false} s={14} x={197.5} y={323} />
      <Txt x={224} y={322} size={27}><XSub sub="QM12/9" val="0.257" /></Txt>
      <Sym kind="square" color={GREEN} filled={false} s={15} x={197.5} y={365} />
      <Txt x={224} y={363} size={27}><XSub sub="QM12/9" val="0.537" /></Txt>
      <Sym kind="up" color={BLUE} filled={false} s={15} x={197.5} y={407} />
      <Txt x={224} y={405} size={27}><XSub sub="QM12/9" val="0.777" /></Txt>
      <Sym kind="right" color={BLACK} filled={false} s={14} x={197.5} y={449} />
      <Txt x={224} y={449} size={27}>QM12/9 [Ref.2]</Txt>

      {/* Left bottom overlays */}
      <Box x={188} y={488} w={224} h={50} size={35}>E8/12+E6/10</Box>
      <VTitle cx={111} cy={635} size={49}>τ (μs)</VTitle>
      <Sym kind="left" color={BLACK} filled={true} s={15} x={206.5} y={620} />
      <Txt x={233} y={620} size={26}>E8/12 [Ref.2]</Txt>
      <Sym kind="circle" color={RED} filled={true} s={15} x={206.5} y={654} />
      <Txt x={233} y={652} size={26}><XSub sub="E6/10" val="0.245" /></Txt>
      <Sym kind="square" color={GREEN} filled={true} s={15} x={206.5} y={695} />
      <Txt x={233} y={693} size={26}><XSub sub="E6/10" val="0.512" /></Txt>
      <Sym kind="up" color={BLUE} filled={true} s={16} x={206.5} y={737} />
      <Txt x={233} y={735} size={26}><XSub sub="E6/10" val="0.725" /></Txt>
      <Sym kind="right" color={BLACK} filled={true} s={15} x={206.5} y={778} />
      <Txt x={233} y={777} size={26}>E6/10 [Ref.2]</Txt>
      <div style={{ position: 'absolute', left: 487, top: 855, fontSize: 37, fontWeight: 'bold', lineHeight: 1, whiteSpace: 'nowrap' }}>T/T<sub style={{ fontSize: '0.7em', verticalAlign: '-0.3em', lineHeight: 0 }}>c</sub></div>

      {/* Middle top overlays */}
      <Box x={1061} y={105} w={268} h={47} size={30}>QVE8/5+QM12/9</Box>
      <VTitle cx={953} cy={267} size={44}>η (mPa.s)</VTitle>
      <Sym kind="left" color={BLACK} filled={true} s={18} x={1079} y={250} />
      <Txt x={1111} y={250} size={25}>QVE8/5 [Ref.2]</Txt>
      <Sym kind="circle" color={RED} filled={true} s={17} x={1079} y={288} />
      <Txt x={1111} y={287} size={25}><XSub sub="QM12/9" val="0.257" /></Txt>
      <Sym kind="square" color={GREEN} filled={true} s={17} x={1079} y={333} />
      <Txt x={1111} y={331} size={25}><XSub sub="QM12/9" val="0.537" /></Txt>
      <Sym kind="up" color={BLUE} filled={true} s={18} x={1079} y={376} />
      <Txt x={1104} y={375} size={25}><XSub sub="QM12/9" val="0.777" /></Txt>
      <Sym kind="right" color={BLACK} filled={true} s={18} x={1079} y={421} />
      <Txt x={1111} y={420} size={25}>QM12/9 [Ref.2]</Txt>

      {/* Middle bottom overlays */}
      <Box x={1062} y={461} w={231} h={44} size={35}>E8/12+E6/10</Box>
      <VTitle cx={944} cy={638} size={44}>η (mPa.s)</VTitle>
      <Sym kind="left" color={BLACK} filled={false} s={15} x={1092} y={603} />
      <Txt x={1127} y={603} size={30}>E8/12 [Ref.2]</Txt>
      <Sym kind="circle" color={RED} filled={false} s={16} x={1092} y={648} />
      <Txt x={1127} y={647} size={30}><XSub sub="E6/10" val="0.245" /></Txt>
      <Sym kind="square" color={GREEN} filled={false} s={16} x={1092} y={699} />
      <Txt x={1127} y={698} size={30}><XSub sub="E6/10" val="0.512" /></Txt>
      <Sym kind="up" color={BLUE} filled={false} s={17} x={1092} y={752} />
      <Txt x={1127} y={750} size={30}><XSub sub="E6/10" val="0.725" /></Txt>
      <Sym kind="right" color={BLACK} filled={false} s={15} x={1092} y={803} />
      <Txt x={1127} y={803} size={30}>E6/10 [Ref.2]</Txt>

      {/* Right overlays */}
      <Box x={1896} y={140} w={261} h={74} size={39} sy={1.25}>E8/12+E6/10</Box>
      <VTitle cx={1805} cy={436} size={46}>ln(η)</VTitle>
      <Sym kind="up" color={BLACK} filled={false} s={20} x={2274} y={548} sw={2.4} />
      <Txt x={2310} y={545} size={39}><XSub sub="E6/10" val="0.245" /></Txt>
      <Sym kind="square" color={BLACK} filled={false} s={20} x={2274} y={628} sw={2.4} />
      <Txt x={2310} y={626} size={39}><XSub sub="E6/10" val="0.512" /></Txt>
      <Sym kind="circle" color={BLACK} filled={false} s={19} x={2274} y={708} sw={2.4} />
      <Txt x={2310} y={706} size={39}><XSub sub="E6/10" val="0.725" /></Txt>
      <div style={{ position: 'absolute', left: 2209, top: 842, transform: 'translateX(-50%)', fontSize: 41, fontWeight: 'bold', lineHeight: 1, whiteSpace: 'nowrap' }}>1000/T (K<sup style={{ fontSize: '0.65em', verticalAlign: '0.6em', lineHeight: 0 }}>-1</sup>)</div>
    </div>
  );
}
